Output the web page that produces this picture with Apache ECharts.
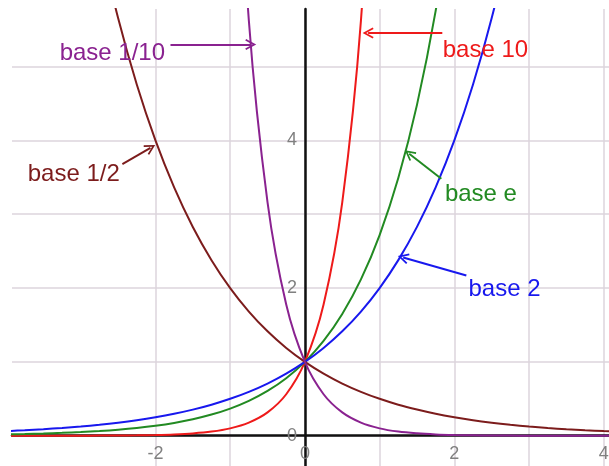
<!DOCTYPE html>
<html>
<head>
<meta charset="utf-8">
<script src="https://cdn.jsdelivr.net/npm/echarts@6/dist/echarts.min.js"></script>
<style>
  html, body { margin: 0; padding: 0; background: #fff; }
  #chart { width: 609px; height: 466px; }
</style>
</head>
<body>
<div id="chart"></div>
<script>
// x positions shared by every curve
const xs = [-4, -3.75, -3.5, -3.25, -3, -2.75, -2.5, -2.25, -2, -1.75, -1.5, -1.25, -1, -0.75, -0.5, -0.25,
  0, 0.25, 0.5, 0.75, 1, 1.25, 1.5, 1.75, 2, 2.25, 2.5, 2.75, 3, 3.25, 3.5, 3.75, 4, 4.25];

// y values (null = above the top of the plot)
const base10 = [0.0001, 0.0002, 0.0003, 0.0006, 0.001, 0.0018, 0.0032, 0.0056, 0.01, 0.0178, 0.0316, 0.0562, 0.1, 0.178, 0.316, 0.562,
  1, 1.778, 3.162, 5.623, 10, null, null, null, null, null, null, null, null, null, null, null, null, null];
const baseE = [0.0183, 0.0235, 0.0302, 0.0388, 0.0498, 0.0639, 0.0821, 0.1054, 0.1353, 0.1738, 0.2231, 0.2865, 0.3679, 0.4724, 0.6065, 0.7788,
  1, 1.284, 1.6487, 2.117, 2.7183, 3.4903, 4.4817, 5.7546, 7.3891, null, null, null, null, null, null, null, null, null];
const base2 = [0.0625, 0.0743, 0.0884, 0.1051, 0.125, 0.1487, 0.1768, 0.2102, 0.25, 0.2973, 0.3536, 0.4204, 0.5, 0.5946, 0.7071, 0.8409,
  1, 1.1892, 1.4142, 1.6818, 2, 2.3784, 2.8284, 3.3636, 4, 4.7568, 5.6569, 6.7272, 8, null, null, null, null, null];
const baseHalf = [null, null, null, null, 8, 6.727, 5.657, 4.757, 4, 3.364, 2.828, 2.378, 2, 1.682, 1.414, 1.189,
  1, 0.841, 0.707, 0.595, 0.5, 0.42, 0.354, 0.297, 0.25, 0.21, 0.177, 0.149, 0.125, 0.105, 0.088, 0.074, 0.0625, 0.053];
const baseTenth = [null, null, null, null, null, null, null, null, null, null, null, null, 10, 5.623, 3.162, 1.778,
  1, 0.562, 0.316, 0.178, 0.1, 0.056, 0.032, 0.018, 0.01, 0.0056, 0.0032, 0.0018, 0.001, 0.0006, 0.0003, 0.0002, 0.0001, 0.0001];

// grid lines and tick labels
const xGrid = [-2, -1, 0, 1, 2, 3, 4];
const yGrid = [0, 1, 2, 3, 4, 5];
const xLabels = [-2, 0, 2, 4];
const yLabels = [0, 2, 4];

// visible window
const xMin = -3.92, xMax = 4.07;
const yMin = -0.41, yMax = 5.78;

// plot box in pixels
const W = 609, H = 466;
const gLeft = 12, gTop = 9;

// open arrow head, pointing up (markLine turns it along the line)
const arrowHead = "path://M5,0L10,9L8.6,9.8L5,3.2L1.4,9.8L0,9Z";

function pairs(ys) {
  return xs.map((x, i) => [x, ys[i]]);
}

function curve(name, ys, color, note, arrow) {
  return {
    name: name,
    type: "line",
    data: pairs(ys),
    showSymbol: false,
    smooth: 0.35,
    connectNulls: false,
    lineStyle: { color: color, width: 2 },
    itemStyle: { color: color },
    markLine: {
      silent: true,
      animation: false,
      symbol: ["none", arrowHead],
      symbolSize: 11,
      label: { show: false },
      lineStyle: { color: color, width: 2, type: "solid" },
      data: [[{ coord: arrow[0] }, { coord: arrow[1] }]],
    },
    markPoint: {
      silent: true,
      animation: false,
      symbol: "circle",
      symbolSize: 1,
      itemStyle: { color: "transparent" },
      label: {
        show: true,
        position: "inside",
        formatter: name,
        color: color,
        fontSize: 24,
        fontFamily: "Liberation Sans, Arial, sans-serif",
      },
      data: [{ coord: note }],
    },
  };
}

// move the axes (with their labels) onto the zero lines
const zeroX = gLeft + (0 - xMin) / (xMax - xMin) * (W - gLeft);
const zeroY = gTop + (yMax - 0) / (yMax - yMin) * (H - gTop);

const chart = echarts.init(document.getElementById("chart"));
chart.setOption({
  animation: false,
  grid: { left: gLeft, top: gTop, right: 0, bottom: 0, outerBoundsMode: "none", containLabel: false },
  xAxis: {
    type: "value",
    min: xMin,
    max: xMax,
    offset: -(H - zeroY),
    axisLine: { onZero: false, lineStyle: { color: "#111", width: 2.5 } },
    axisTick: { show: false, customValues: xGrid },
    splitLine: { show: true, lineStyle: { color: "#dcd4dc", width: 1.5 } },
    axisLabel: {
      customValues: xLabels,
      color: "#808080",
      fontSize: 18,
      margin: 9,
      fontFamily: "Liberation Sans, Arial, sans-serif",
    },
  },
  yAxis: {
    type: "value",
    min: yMin,
    max: yMax,
    offset: -(zeroX - gLeft),
    axisLine: { onZero: false, lineStyle: { color: "#111", width: 2.5 } },
    axisTick: { show: false, customValues: yGrid },
    splitLine: { show: true, lineStyle: { color: "#dcd4dc", width: 1.5 } },
    axisLabel: {
      customValues: yLabels,
      color: "#808080",
      fontSize: 18,
      margin: 8,
      fontFamily: "Liberation Sans, Arial, sans-serif",
    },
  },
  series: [
    curve("base 10", base10, "#ee1a1a", [2.416, 5.226], [[1.839, 5.455], [0.846, 5.455]]),
    curve("base e", baseE, "#228a22", [2.356, 3.266], [[1.826, 3.48], [1.396, 3.82]]),
    curve("base 2", base2, "#1818ee", [2.671, 1.989], [[2.161, 2.17], [1.315, 2.415]]),
    curve("base 1/2", baseHalf, "#7c1c1c", [-3.094, 3.534], [[-2.443, 3.68], [-2.067, 3.9]]),
    curve("base 1/10", baseTenth, "#8a2290", [-2.577, 5.185], [[-1.799, 5.3], [-0.725, 5.3]]),
  ],
});
</script>
</body>
</html>
